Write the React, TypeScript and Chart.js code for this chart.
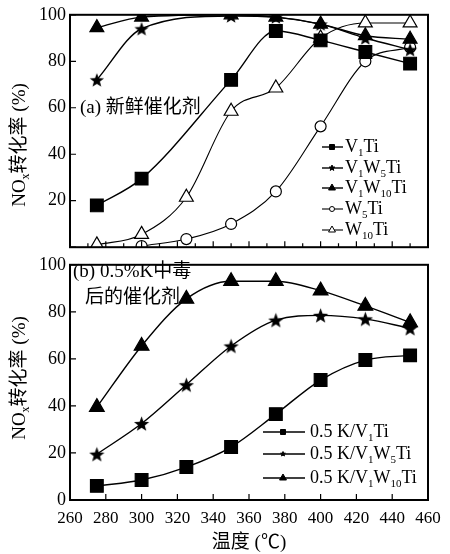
import React, { useEffect, useRef } from 'react';
import { Chart, registerables } from 'chart.js';
Chart.register(...registerables);

// ---------- data ----------
const temps = [275, 300, 325, 350, 375, 400, 425, 450];
const X_MIN = 260;
const X_MAX = 460;
const X_STEP = 20;
const X_MINOR = 10;
const yTickValues = [0, 20, 40, 60, 80, 100];

const freshLabels = ['V₁Ti', 'V₁W₅Ti', 'V₁W₁₀Ti', 'W₅Ti', 'W₁₀Ti'];
const freshV1Ti = [18, 29.5, null, 72, 93, 89, 84, 79];
const freshV1W5Ti = [72, 94, null, 99.5, 99, 96, 90, 85];
const freshV1W10Ti = [94.5, 99, null, 100, 99, 96, 91, 89.5];
const freshW5Ti = [null, 0.5, 3.5, 10, 24, 52, 80, 86];
const freshW10Ti = [1, 5.5, 21.5, 58.5, 68.5, 90, 96.5, 96.5];

const poisonLabels = ['0.5 K/V₁Ti', '0.5 K/V₁W₅Ti', '0.5 K/V₁W₁₀Ti'];
const poisonV1Ti = [6, 8.5, 14, 22.5, 36.5, 51, 59.5, 61.5];
const poisonV1W5Ti = [19.5, 32.5, 49, 65.5, 76.5, 78.5, 77, 73];
const poisonV1W10Ti = [39.5, 65.5, 85.5, 93, 93, 89, 82.5, 75.5];

const yTitle = 'NOₓ转化率 (%)';
const xTitle = '温度 (℃)';
const noteA = ['(a) 新鲜催化剂'];
const noteB = ['(b) 0.5%K中毒', '后的催化剂'];

// ---------- helpers ----------
const SERIF = '"Liberation Serif", "Noto Sans CJK SC", serif';
const fnt = (s: number) => `${s}px ${SERIF}`;
const SUBS: Record<string, string> = {
  '₀': '0', '₁': '1', '₂': '2', '₃': '3', '₄': '4', '₅': '5', '₆': '6', '₇': '7', '₈': '8', '₉': '9', 'ₓ': 'x',
};

function drawRich(ctx: CanvasRenderingContext2D, text: string, x: number, y: number, size: number, align: 'left' | 'center') {
  const runs: { t: string; sub: boolean }[] = [];
  for (const ch of Array.from(text)) {
    const sub = ch in SUBS;
    const c = sub ? SUBS[ch] : ch;
    const last = runs[runs.length - 1];
    if (last && last.sub === sub) last.t += c;
    else runs.push({ t: c, sub });
  }
  const subSize = Math.round(size * 0.62);
  let total = 0;
  const widths = runs.map((r) => {
    ctx.font = fnt(r.sub ? subSize : size);
    const w = ctx.measureText(r.t).width;
    total += w;
    return w;
  });
  let cx = align === 'center' ? x - total / 2 : x;
  ctx.textBaseline = 'middle';
  ctx.textAlign = 'left';
  ctx.fillStyle = '#000';
  runs.forEach((r, i) => {
    ctx.font = fnt(r.sub ? subSize : size);
    ctx.fillText(r.t, cx, r.sub ? y + size * 0.32 : y);
    cx += widths[i];
  });
}

function drawMarker(ctx: CanvasRenderingContext2D, kind: string, x: number, y: number, r: number, filled: boolean) {
  ctx.beginPath();
  if (kind === 'circle') ctx.arc(x, y, r, 0, Math.PI * 2);
  else if (kind === 'rect') ctx.rect(x - r, y - r, 2 * r, 2 * r);
  else if (kind === 'triangle') {
    ctx.moveTo(x, y - r);
    ctx.lineTo(x + r * 0.866, y + r * 0.5);
    ctx.lineTo(x - r * 0.866, y + r * 0.5);
    ctx.closePath();
  } else if (kind === 'star') {
    for (let i = 0; i < 10; i++) {
      const a = -Math.PI / 2 + (i * Math.PI) / 5;
      const rr = i % 2 ? r * 0.42 : r;
      ctx.lineTo(x + rr * Math.cos(a), y + rr * Math.sin(a));
    }
    ctx.closePath();
  }
  ctx.fillStyle = filled ? '#000' : '#fff';
  ctx.fill();
  ctx.lineWidth = 1;
  ctx.strokeStyle = '#000';
  ctx.stroke();
}

function makeStar(size: number) {
  const c = document.createElement('canvas');
  c.width = size;
  c.height = size;
  const ctx = c.getContext('2d')!;
  const cx = size / 2;
  const cy = size / 2 + size * 0.05;
  const R = size / 2 - 0.5;
  ctx.beginPath();
  for (let i = 0; i < 10; i++) {
    const a = -Math.PI / 2 + (i * Math.PI) / 5;
    const rr = i % 2 ? R * 0.42 : R;
    ctx.lineTo(cx + rr * Math.cos(a), cy + rr * Math.sin(a));
  }
  ctx.closePath();
  ctx.fillStyle = '#000';
  ctx.fill();
  return c;
}

function ds(label: string, values: (number | null)[], kind: string, filled: boolean, radius: number, lw: number, legendR: number, starImg?: HTMLCanvasElement) {
  return {
    label,
    data: temps.map((t, i) => ({ x: t, y: values[i] })),
    borderColor: '#000',
    backgroundColor: filled ? '#000' : '#fff',
    pointBackgroundColor: filled ? '#000' : '#fff',
    pointBorderColor: '#000',
    pointStyle: kind === 'star' ? starImg : kind,
    pointRadius: radius,
    pointBorderWidth: 1.2,
    borderWidth: lw,
    cubicInterpolationMode: 'monotone',
    spanGaps: true,
    fill: false,
    legendKind: kind,
    legendFilled: filled,
    legendR,
  } as any;
}

const panelPlugin = {
  id: 'panel',
  afterDraw(chart: any, _args: any, opts: any) {
    const { ctx, chartArea } = chart;
    const { left, right, top, bottom } = chartArea;
    const xs = chart.scales.x;
    const ys = chart.scales.y;
    ctx.save();
    ctx.strokeStyle = '#000';
    ctx.lineWidth = 1.2;
    ctx.beginPath();
    for (let v = X_MIN; v <= X_MAX; v += X_MINOR) {
      const major = (v - X_MIN) % X_STEP === 0;
      if (!major && !opts.minorX) continue;
      const px = xs.getPixelForValue(v);
      ctx.moveTo(px, bottom);
      ctx.lineTo(px, bottom - (major ? 6 : 4));
    }
    for (const v of yTickValues) {
      const py = ys.getPixelForValue(v);
      ctx.moveTo(left, py);
      ctx.lineTo(left + 6, py);
    }
    ctx.stroke();
    ctx.lineWidth = 2;
    ctx.strokeRect(left, top, right - left, bottom - top);

    // y title
    ctx.save();
    ctx.translate(opts.yTitlePos[0], opts.yTitlePos[1]);
    ctx.rotate(-Math.PI / 2);
    drawRich(ctx, yTitle, 0, 0, 19, 'center');
    ctx.restore();

    // x title
    if (opts.xTitlePos) drawRich(ctx, xTitle, opts.xTitlePos[0], opts.xTitlePos[1], 19, 'center');

    // notes
    opts.notes.forEach((n: any) => drawRich(ctx, n.text, n.x, n.y, 19, 'left'));

    // legend
    const lg = opts.legend;
    chart.data.datasets.forEach((d: any, i: number) => {
      const y = lg.rows[i];
      ctx.beginPath();
      ctx.lineWidth = d.borderWidth;
      ctx.strokeStyle = '#000';
      ctx.moveTo(lg.lineX[0], y);
      ctx.lineTo(lg.lineX[1], y);
      ctx.stroke();
      drawMarker(ctx, d.legendKind, lg.markerX, y, d.legendR, d.legendFilled);
      drawRich(ctx, d.label, lg.textX, y, 18, 'left');
    });
    ctx.restore();
  },
};

function makeOptions(showX: boolean, padTop: number, xHeight: number, panel: any) {
  return {
    responsive: false,
    animation: false,
    devicePixelRatio: 1,
    layout: { padding: { top: padTop, right: 22, left: 0, bottom: 0 } },
    plugins: { legend: { display: false }, tooltip: { enabled: false }, panel },
    scales: {
      x: {
        type: 'linear',
        min: X_MIN,
        max: X_MAX,
        grid: { display: false, drawTicks: false },
        border: { display: false },
        ticks: {
          display: showX,
          stepSize: X_STEP,
          autoSkip: false,
          maxRotation: 0,
          color: '#000',
          padding: 8,
          font: { family: SERIF, size: 17 },
        },
        afterFit: (s: any) => {
          s.height = xHeight;
        },
      },
      y: {
        type: 'linear',
        min: 0,
        max: 100,
        grid: { display: false, drawTicks: false },
        border: { display: false },
        ticks: {
          stepSize: 20,
          color: '#000',
          padding: 4,
          font: { family: SERIF, size: 18 },
          callback: (v: number) => (!showX && v === 0 ? '' : String(v)),
        },
        afterFit: (s: any) => {
          s.width = 70;
        },
      },
    },
  } as any;
}

export default function App() {
  const topRef = useRef<HTMLCanvasElement>(null);
  const botRef = useRef<HTMLCanvasElement>(null);

  useEffect(() => {
    const star = makeStar(16);
    const starB = makeStar(17);
    const top = new Chart(topRef.current!, {
      type: 'line',
      data: {
        datasets: [
          ds(freshLabels[0], freshV1Ti, 'rect', true, 9, 1.4, 2.5, undefined),
          ds(freshLabels[1], freshV1W5Ti, 'star', true, 8, 1.4, 3, star),
          ds(freshLabels[2], freshV1W10Ti, 'triangle', true, 8, 1.4, 4, undefined),
          ds(freshLabels[3], freshW5Ti, 'circle', false, 5.5, 1.1, 2.5, undefined),
          ds(freshLabels[4], freshW10Ti, 'triangle', false, 8, 1.1, 4, undefined),
        ],
      },
      options: makeOptions(false, 14, 5, {
        minorX: true,
        yTitlePos: [20, 145],
        notes: [{ text: noteA[0], x: 80, y: 108 }],
        legend: { rows: [147, 168, 188, 209, 230], lineX: [322, 343], markerX: 332, textX: 345 },
      }),
      plugins: [panelPlugin],
    });
    const bot = new Chart(botRef.current!, {
      type: 'line',
      data: {
        datasets: [
          ds(poisonLabels[0], poisonV1Ti, 'rect', true, 9, 1.4, 2.5, undefined),
          ds(poisonLabels[1], poisonV1W5Ti, 'star', true, 8, 1.4, 2.5, starB),
          ds(poisonLabels[2], poisonV1W10Ti, 'triangle', true, 8.5, 1.4, 4, undefined),
        ],
      },
      options: makeOptions(true, 7, 54, {
        minorX: false,
        yTitlePos: [20, 128],
        xTitlePos: [249, 293],
        notes: [
          { text: noteB[0], x: 73, y: 22 },
          { text: noteB[1], x: 85, y: 48 },
        ],
        legend: { rows: [182, 204, 228], lineX: [263, 305], markerX: 283, textX: 310 },
      }),
      plugins: [panelPlugin],
    });
    return () => {
      top.destroy();
      bot.destroy();
    };
  }, []);

  return (
    <div style={{ position: 'absolute', left: 0, top: 0, width: 450, height: 554, background: '#fff' }}>
      <canvas ref={botRef} width={450} height={304} style={{ position: 'absolute', left: 0, top: 250, display: 'block' }} />
      <canvas ref={topRef} width={450} height={262} style={{ position: 'absolute', left: 0, top: 0, display: 'block' }} />
    </div>
  );
}
